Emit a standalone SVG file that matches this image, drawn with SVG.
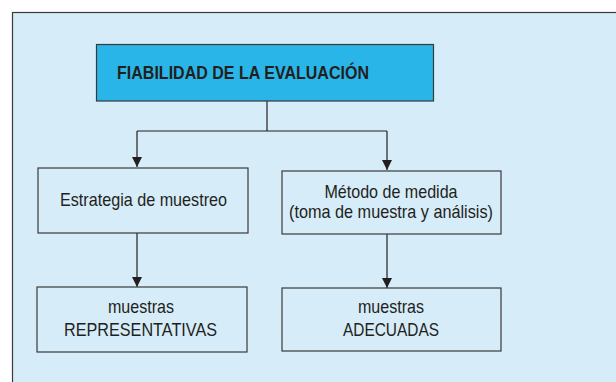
<svg xmlns="http://www.w3.org/2000/svg" width="616" height="382" viewBox="0 0 616 382">
<defs>
<style>
.box{fill:#d6ecf9;stroke:#3a3a3a;stroke-width:1.2}
.t{font-family:"Liberation Sans",Arial,sans-serif;font-size:18.5px;fill:#231f20;text-anchor:middle}
.tb{font-family:"Liberation Sans",Arial,sans-serif;font-size:17.5px;font-weight:bold;fill:#231f20}
.ln{fill:none;stroke:#231f20;stroke-width:1.2}
</style>
<marker id="ah" markerWidth="10" markerHeight="10" viewBox="0 0 10 10" refX="10" refY="5" orient="auto" markerUnits="userSpaceOnUse">
<path d="M0,0 L10,5 L0,10 Z" fill="#231f20"/>
</marker>
</defs>
<rect x="12.5" y="12.5" width="620" height="400" fill="#d6ecf9" stroke="#3a3a3a" stroke-width="1.2"/>
<g id="connectors">
<path class="ln" d="M267,101 V131"/>
<path class="ln" d="M137,131 H387"/>
<path class="ln" d="M137,131 V167" marker-end="url(#ah)"/>
<path class="ln" d="M387,131 V170" marker-end="url(#ah)"/>
<path class="ln" d="M137,233 V287" marker-end="url(#ah)"/>
<path class="ln" d="M387,234 V288" marker-end="url(#ah)"/>
</g>
<g id="n-top">
<rect x="96.5" y="44.5" width="337" height="56.5" fill="#29b5e8" stroke="#3a3a3a" stroke-width="1.2"/>
<text class="tb" x="117" y="79" textLength="252" lengthAdjust="spacingAndGlyphs">FIABILIDAD DE LA EVALUACIÓN</text>
</g>
<g id="n-estrategia">
<rect class="box" x="38" y="168" width="210" height="65"/>
<text class="t" x="143.5" y="206" textLength="167" lengthAdjust="spacingAndGlyphs">Estrategia de muestreo</text>
</g>
<g id="n-metodo">
<rect class="box" x="282" y="171" width="219" height="63"/>
<text class="t" x="391" y="197.5" textLength="133" lengthAdjust="spacingAndGlyphs">Método de medida</text>
<text class="t" x="391" y="217.5" textLength="204" lengthAdjust="spacingAndGlyphs">(toma de muestra y análisis)</text>
</g>
<g id="n-representativas">
<rect class="box" x="37" y="287" width="210" height="65"/>
<text class="t" x="141" y="313" textLength="66" lengthAdjust="spacingAndGlyphs">muestras</text>
<text class="t" x="140.5" y="336" textLength="153" lengthAdjust="spacingAndGlyphs">REPRESENTATIVAS</text>
</g>
<g id="n-adecuadas">
<rect class="box" x="282" y="288" width="219" height="63"/>
<text class="t" x="391" y="313" textLength="66" lengthAdjust="spacingAndGlyphs">muestras</text>
<text class="t" x="391" y="336" textLength="96" lengthAdjust="spacingAndGlyphs">ADECUADAS</text>
</g>
</svg>
